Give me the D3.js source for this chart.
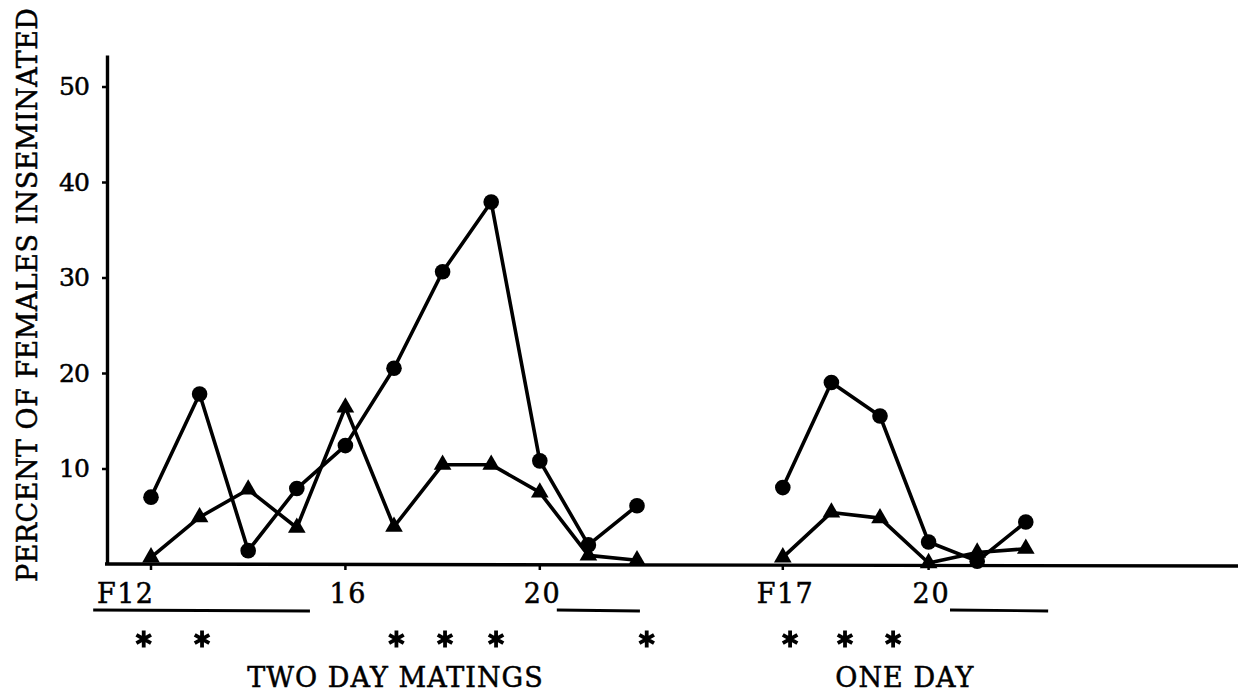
<!DOCTYPE html>
<html>
<head>
<meta charset="utf-8">
<script src="https://cdn.jsdelivr.net/npm/d3@7"></script>
<style>
  body { margin: 0; background: #fff; }
  text { font-family: "DejaVu Serif", "Liberation Serif", serif; fill: #000; }
</style>
</head>
<body>
<script>
var width = 1238, height = 695;

// generation slots along the bottom: two day run F12..F22 -> 0..10, one day run F17..F22 -> 13..18
const twoDayGen = [0, 1, 2, 3, 4, 5, 6, 7, 8, 9, 10];
const twoDayCircle   = [7.0, 17.8, 1.4, 7.9, 12.4, 20.5, 30.6, 37.9, 10.8, 2.0, 6.1];
const twoDayTriangle = [0.7, 4.9, 7.8, 3.8, 16.4, 3.9, 10.4, 10.4, 7.5, 0.9, 0.4];

const oneDayGen = [13, 14, 15, 16, 17, 18];
const oneDayCircle   = [8.0, 19.0, 15.5, 2.3, 0.3, 4.4];
const oneDayTriangle = [0.7, 5.4, 4.8, 0.1, 1.2, 1.6];

const xTickPos    = [0, 4, 8, 13, 16];
const xTickLabels = ["F12", "16", "20", "F17", "20"];
const yTicks      = [10, 20, 30, 40, 50];

// asterisks under the axis (slot units) and the short rules next to labels
const starPos    = [-0.15, 1.05, 5.05, 6.05, 7.1, 10.2, 13.15, 14.28, 15.27];
const underRules = [[-1.19, 3.27], [8.35, 10.06], [16.44, 18.46]];
const groupTitles   = ["TWO DAY MATINGS", "ONE DAY"];
const groupTitlePos = [5.02, 15.5];

var svg = d3.select('body').append('svg')
    .attr('width', width)
    .attr('height', height);

const x = d3.scaleLinear().domain([0, 18]).range([151, 151 + 48.6 * 18]);
const y = d3.scaleLinear().domain([0, 53.3]).range([564, 55]);

// typewriter-ish text: serif face spread out to the typed width
function typed(sel, size, w) {
    sel.style('font-size', size + 'px')
       .attr('textLength', w)
       .attr('lengthAdjust', 'spacing')
       .attr('stroke', '#000')
       .attr('stroke-width', 0.5);
    return sel;
}

// y axis
const yAxis = svg.append('g')
    .attr('transform', 'translate(107,0)')
    .call(d3.axisLeft(y).tickValues(yTicks).tickSize(5).tickSizeOuter(0).tickPadding(12));
yAxis.select('.domain').attr('stroke-width', 3.4);
yAxis.selectAll('.tick line').attr('stroke-width', 2.5);
yAxis.selectAll('.tick text')
    .attr('font-family', null)
    .attr('font-size', null)
    .call(typed, 25, 31);

// x axis line runs to the page edge
svg.append('line')
    .attr('x1', 105).attr('x2', width)
    .attr('y1', y(0)).attr('y2', y(0) + 2)
    .attr('stroke', '#000').attr('stroke-width', 3.4);

const xTicks = svg.append('g');
xTicks.selectAll('line')
    .data(xTickPos)
    .join('line')
    .attr('x1', d => x(d)).attr('x2', d => x(d))
    .attr('y1', y(0)).attr('y2', y(0) + 6)
    .attr('stroke', '#000').attr('stroke-width', 2.5);

xTicks.selectAll('text')
    .data(xTickPos)
    .join('text')
    .attr('x', d => x(d) + 2)
    .attr('y', 603)
    .attr('text-anchor', (d, i) => i == 0 ? 'end' : 'middle')
    .text((d, i) => xTickLabels[i])
    .each(function(d, i) {
        typed(d3.select(this), 27, xTickLabels[i].length == 3 ? 56 : 36);
    });

svg.append('g').selectAll('line')
    .data(underRules)
    .join('line')
    .attr('x1', d => x(d[0])).attr('x2', d => x(d[1]))
    .attr('y1', 610).attr('y2', 611)
    .attr('stroke', '#000').attr('stroke-width', 2.8);

svg.append('g').selectAll('path')
    .data(starPos)
    .join('path')
    .attr('transform', d => `translate(${x(d)},639)`)
    .attr('d', d3.symbol(d3.symbolAsterisk, 200))
    .attr('fill', 'none')
    .attr('stroke', '#000').attr('stroke-width', 3.8);

svg.append('g').selectAll('text')
    .data(groupTitles)
    .join('text')
    .attr('x', (d, i) => x(groupTitlePos[i]))
    .attr('y', 687)
    .attr('text-anchor', 'middle')
    .text(d => d)
    .each(function(d) {
        typed(d3.select(this), 27, d.length * 19.7);
    });

svg.append('text')
    .attr('transform', 'translate(37,295) rotate(-90)')
    .attr('text-anchor', 'middle')
    .text('PERCENT OF FEMALES INSEMINATED')
    .call(typed, 27, 574);

// series
const series = [
    { gen: twoDayGen, vals: twoDayCircle,   shape: 'circle' },
    { gen: twoDayGen, vals: twoDayTriangle, shape: 'triangle' },
    { gen: oneDayGen, vals: oneDayCircle,   shape: 'circle' },
    { gen: oneDayGen, vals: oneDayTriangle, shape: 'triangle' }
];

const line = d3.line().x(d => x(d[0])).y(d => y(d[1]));
const gLines = svg.append('g');
const gMarks = svg.append('g');

series.forEach(s => {
    const pts = s.gen.map((g, i) => [g, s.vals[i]]);
    gLines.append('path')
        .attr('d', line(pts))
        .attr('fill', 'none')
        .attr('stroke', '#000')
        .attr('stroke-width', 3.6)
        .attr('stroke-linejoin', 'round');
    if (s.shape == 'circle') {
        gMarks.selectAll(null).data(pts).join('circle')
            .attr('cx', d => x(d[0])).attr('cy', d => y(d[1]))
            .attr('r', 7.8).attr('fill', '#000');
    } else {
        gMarks.selectAll(null).data(pts).join('path')
            .attr('transform', d => `translate(${x(d[0])},${y(d[1])})`)
            .attr('d', d3.symbol(d3.symbolTriangle, 135))
            .attr('fill', '#000');
    }
});
</script>
</body>
</html>
